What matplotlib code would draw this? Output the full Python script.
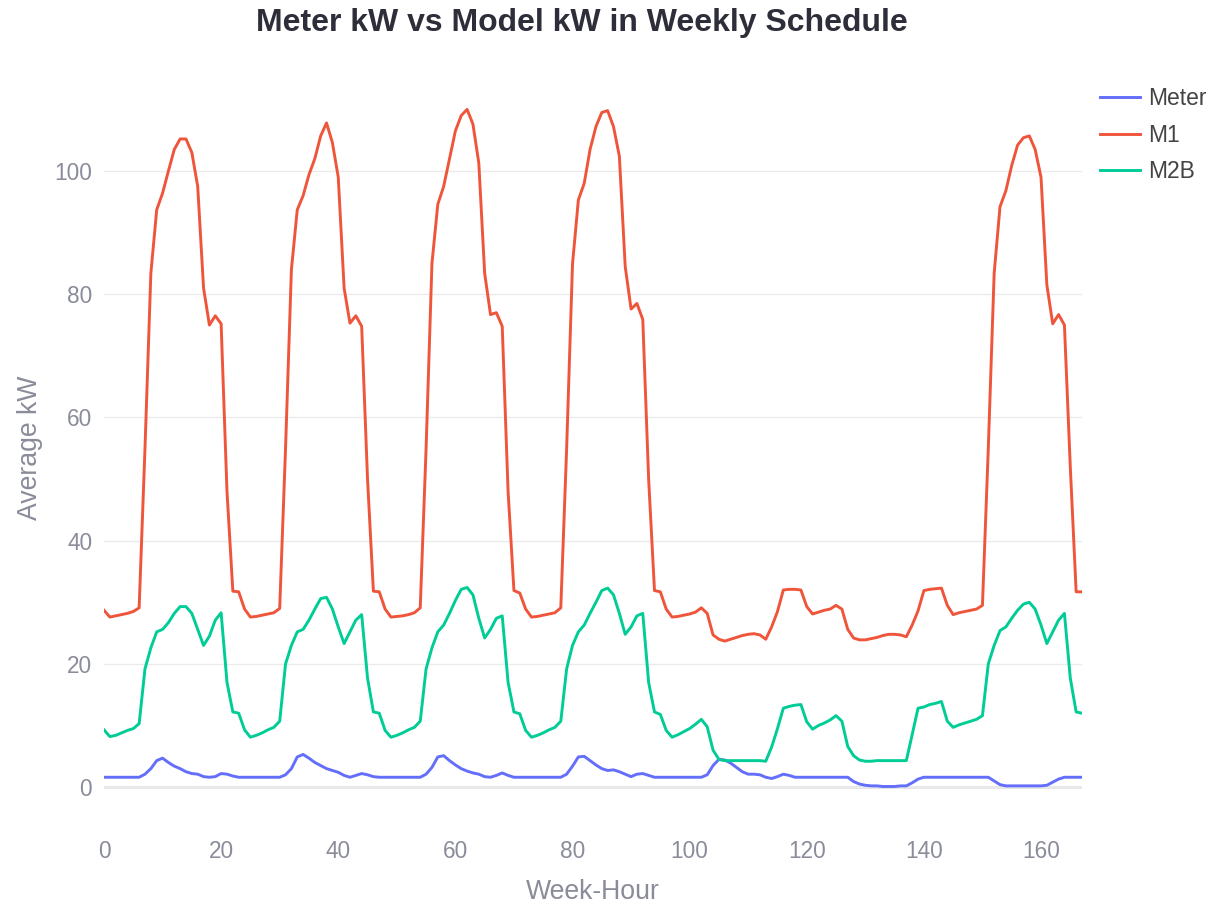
import matplotlib
matplotlib.use('Agg')
import matplotlib.pyplot as plt
import numpy as np

# week-hour index 0..167
hours = np.arange(168)

meter = [
    1.6, 1.6, 1.6, 1.6, 1.6, 1.6, 1.6, 2.1, 3.0, 4.3, 4.7, 4.0, 3.4, 3.0, 2.5, 2.2, 2.1, 1.7, 1.6, 1.7, 2.2, 2.1, 1.8, 1.6,
    1.6, 1.6, 1.6, 1.6, 1.6, 1.6, 1.6, 2.0, 3.0, 4.9, 5.3, 4.7, 4.0, 3.5, 3.0, 2.7, 2.4, 1.9, 1.6, 1.9, 2.2, 2.0, 1.7, 1.6,
    1.6, 1.6, 1.6, 1.6, 1.6, 1.6, 1.6, 2.1, 3.2, 4.9, 5.1, 4.3, 3.6, 3.0, 2.6, 2.3, 2.1, 1.7, 1.6, 1.9, 2.3, 1.9, 1.6, 1.6,
    1.6, 1.6, 1.6, 1.6, 1.6, 1.6, 1.6, 2.1, 3.4, 4.9, 5.0, 4.3, 3.6, 3.0, 2.7, 2.8, 2.5, 2.1, 1.7, 2.1, 2.2, 1.9, 1.6, 1.6,
    1.6, 1.6, 1.6, 1.6, 1.6, 1.6, 1.6, 2.0, 3.5, 4.5, 4.4, 3.9, 3.2, 2.5, 2.1, 2.1, 2.0, 1.6, 1.4, 1.7, 2.1, 1.9, 1.6, 1.6,
    1.6, 1.6, 1.6, 1.6, 1.6, 1.6, 1.6, 1.6, 0.9, 0.5, 0.3, 0.2, 0.2, 0.1, 0.1, 0.1, 0.2, 0.2, 0.7, 1.3, 1.6, 1.6, 1.6, 1.6,
    1.6, 1.6, 1.6, 1.6, 1.6, 1.6, 1.6, 1.6, 1.0, 0.4, 0.2, 0.2, 0.2, 0.2, 0.2, 0.2, 0.2, 0.3, 0.8, 1.3, 1.6, 1.6, 1.6, 1.6,
]

m1 = [
    28.7, 27.6, 27.8, 28.0, 28.2, 28.5, 29.1, 55.0, 83.4, 93.7, 96.4, 100.0, 103.5, 105.2, 105.2, 103.0, 97.5, 81.0, 75.0, 76.5, 75.2, 48.0, 31.8, 31.7,
    28.9, 27.6, 27.7, 27.9, 28.1, 28.3, 29.0, 55.0, 84.0, 93.7, 96.0, 99.4, 102.0, 105.7, 107.8, 104.6, 99.0, 81.0, 75.3, 76.5, 74.8, 50.0, 31.8, 31.7,
    28.9, 27.6, 27.7, 27.8, 28.0, 28.3, 29.1, 55.0, 85.0, 94.6, 97.5, 102.0, 106.5, 109.0, 110.0, 107.6, 101.3, 83.4, 76.7, 77.0, 74.8, 48.0, 31.9, 31.5,
    28.9, 27.6, 27.7, 27.9, 28.1, 28.3, 29.1, 55.0, 84.9, 95.3, 98.0, 103.5, 107.2, 109.5, 109.8, 107.2, 102.4, 84.5, 77.6, 78.5, 75.9, 50.0, 31.9, 31.7,
    28.9, 27.6, 27.7, 27.9, 28.1, 28.4, 29.1, 28.2, 24.7, 24.0, 23.7, 24.0, 24.3, 24.6, 24.8, 24.9, 24.7, 24.0, 26.0, 28.5, 32.0, 32.1, 32.1, 32.0,
    29.3, 28.1, 28.4, 28.7, 28.9, 29.5, 28.9, 25.6, 24.2, 23.9, 23.9, 24.1, 24.3, 24.6, 24.8, 24.8, 24.7, 24.4, 26.3, 28.6, 31.9, 32.1, 32.2, 32.3,
    29.5, 28.0, 28.3, 28.5, 28.7, 28.9, 29.5, 55.0, 83.4, 94.2, 96.8, 100.9, 104.2, 105.4, 105.7, 103.5, 99.0, 81.5, 75.2, 76.7, 75.0, 52.0, 31.7, 31.7,
]

m2b = [
    9.3, 8.2, 8.4, 8.8, 9.2, 9.5, 10.3, 19.2, 22.6, 25.2, 25.6, 26.7, 28.2, 29.3, 29.3, 28.2, 25.6, 23.0, 24.5, 27.1, 28.3, 17.0, 12.2, 12.0,
    9.3, 8.1, 8.4, 8.8, 9.3, 9.7, 10.7, 20.0, 23.0, 25.2, 25.6, 27.1, 28.9, 30.6, 30.8, 28.9, 26.0, 23.3, 25.2, 27.1, 28.0, 17.7, 12.2, 12.0,
    9.2, 8.1, 8.4, 8.8, 9.3, 9.7, 10.7, 19.2, 22.6, 25.2, 26.3, 28.2, 30.3, 32.1, 32.4, 31.2, 27.4, 24.2, 25.6, 27.4, 27.8, 17.0, 12.2, 11.9,
    9.2, 8.1, 8.4, 8.8, 9.3, 9.7, 10.7, 19.2, 23.0, 25.2, 26.3, 28.2, 30.0, 31.9, 32.3, 31.2, 28.2, 24.8, 26.0, 27.8, 28.2, 17.0, 12.2, 11.8,
    9.2, 8.1, 8.5, 9.0, 9.5, 10.2, 11.0, 9.8, 6.0, 4.5, 4.3, 4.3, 4.3, 4.3, 4.3, 4.3, 4.3, 4.2, 6.5, 9.5, 12.8, 13.1, 13.3, 13.4,
    10.6, 9.4, 10.0, 10.4, 10.9, 11.6, 10.7, 6.6, 5.1, 4.4, 4.2, 4.2, 4.3, 4.3, 4.3, 4.3, 4.3, 4.3, 8.5, 12.8, 13.0, 13.4, 13.6, 13.9,
    10.7, 9.7, 10.1, 10.4, 10.7, 11.0, 11.6, 20.0, 23.0, 25.4, 26.0, 27.4, 28.7, 29.7, 30.0, 28.9, 26.3, 23.3, 25.2, 27.1, 28.2, 17.7, 12.2, 12.0,
]

series_names = ['Meter', 'M1', 'M2B']
colors = ['#636EFA', '#EF553B', '#00CC96']
xticks = [0, 20, 40, 60, 80, 100, 120, 140, 160]
yticks = [0, 20, 40, 60, 80, 100]

plt.rcParams['font.family'] = ['Liberation Sans', 'DejaVu Sans']

W, H = 1220, 909
fig = plt.figure(figsize=(W / 100, H / 100), dpi=100)
left, right, top, bottom = 104, 1082, 75.5, 821
ax = fig.add_axes([left / W, 1 - bottom / H, (right - left) / W, (bottom - top) / H])

for name, vals, c in zip(series_names, [meter, m1, m2b], colors):
    ax.plot(hours, vals, color=c, lw=2.1, label=name, zorder=3)

ax.set_xlim(0, 167)
ax.set_ylim(-5.5, 115.5)
ax.set_xticks(xticks)
ax.set_yticks(yticks)
ax.grid(axis='y', color='#ebebeb', lw=1.0, zorder=0)
ax.axhline(0, color='#e2e2e2', lw=2.0, zorder=1)
for s in ax.spines.values():
    s.set_visible(False)

tick_col = '#8a8c99'
ax.tick_params(axis='both', length=0, labelsize=16.3, labelcolor=tick_col)
ax.tick_params(axis='x', pad=14)
ax.tick_params(axis='y', pad=8.5)

ax.set_xlabel('Week-Hour', fontsize=19.2, color=tick_col, labelpad=11)
ax.set_ylabel('Average kW', fontsize=19.2, color=tick_col, labelpad=8)

fig.text(582 / W, 1 - 23 / H, 'Meter kW vs Model kW in Weekly Schedule',
         ha='center', va='center', fontsize=23, fontweight='bold', color='#2e2e3a')

fig.legend(loc='upper left', bbox_to_anchor=(1100 / W, 1 - 87 / H), frameon=False,
           fontsize=16.5, handlelength=1.75, handletextpad=0.35, labelspacing=0.6,
           borderaxespad=0, borderpad=0, labelcolor='#444444')

fig.savefig('out.png', dpi=100)
